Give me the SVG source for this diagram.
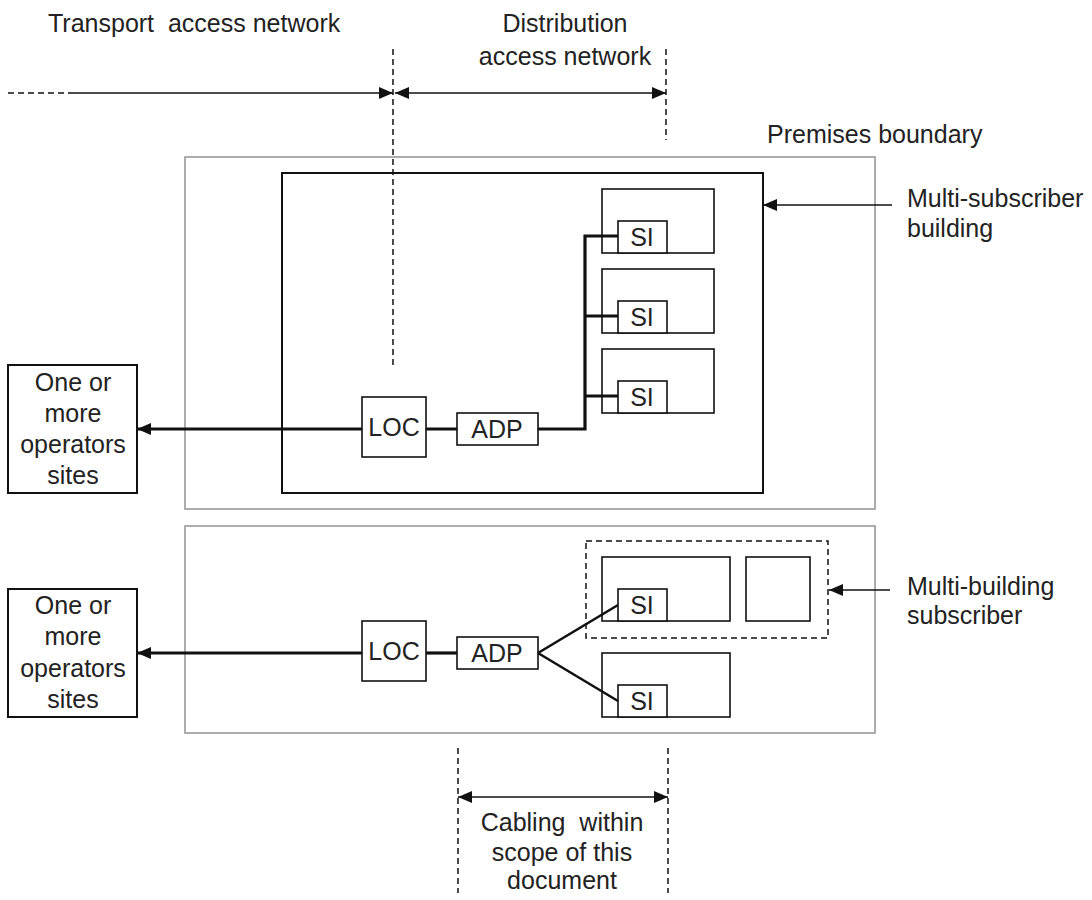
<svg xmlns="http://www.w3.org/2000/svg" width="1092" height="900" viewBox="0 0 1092 900">
<style>
text{font-family:"Liberation Sans",Arial,sans-serif;font-size:25px;fill:#222}
.c{text-anchor:middle}
.prem{fill:none;stroke:#999;stroke-width:1.6}
.bld{fill:none;stroke:#111;stroke-width:2}
.box{fill:#fff;stroke:#111;stroke-width:1.6}
.dash{fill:none;stroke:#111;stroke-width:1.5;stroke-dasharray:6,4}
.thick{fill:none;stroke:#111;stroke-width:3.2}
.med{fill:none;stroke:#111;stroke-width:2.6}
.thin{fill:none;stroke:#111;stroke-width:1.6}
</style>
<defs>
<marker id="ah" viewBox="0 0 14 12" refX="14" refY="6" markerWidth="14" markerHeight="12" markerUnits="userSpaceOnUse" orient="auto-start-reverse">
<path d="M0,0 L14,6 L0,12 Z" fill="#111"/>
</marker>
</defs>
<g id="header">
<text x="48" y="32" xml:space="preserve">Transport  access network</text>
<text class="c" x="565" y="32">Distribution</text>
<text class="c" x="565" y="65">access network</text>
</g>
<g id="premises-1"><rect class="prem" x="185" y="157" width="690" height="352"/></g>
<g id="premises-2"><rect class="prem" x="185" y="526" width="690" height="207"/></g>
<g id="premises-label"><text x="767" y="143">Premises boundary</text></g>
<g id="building"><rect class="bld" x="282" y="173" width="481" height="320"/></g>
<g id="sub1"><rect class="box" x="602" y="189" width="112" height="64"/><rect class="box" x="618" y="221" width="49" height="32"/><text class="c" x="642" y="246">SI</text></g>
<g id="sub2"><rect class="box" x="602" y="269" width="112" height="64"/><rect class="box" x="618" y="301" width="49" height="32"/><text class="c" x="642" y="326">SI</text></g>
<g id="sub3"><rect class="box" x="602" y="349" width="112" height="64"/><rect class="box" x="618" y="381" width="49" height="32"/><text class="c" x="642" y="406">SI</text></g>
<g id="loc1"><rect class="box" x="362" y="397" width="64" height="60"/><text class="c" x="394" y="436">LOC</text></g>
<g id="adp1"><rect class="box" x="457" y="413" width="81" height="32"/><text class="c" x="497" y="438">ADP</text></g>
<g id="ops1"><rect class="bld" x="8" y="365" width="129" height="128"/>
<text class="c" x="73" y="391">One or</text><text class="c" x="73" y="422">more</text><text class="c" x="73" y="453">operators</text><text class="c" x="73" y="484">sites</text></g>
<g id="msb-label"><text x="907" y="207">Multi-subscriber</text><text x="907" y="237">building</text></g>
<g id="mbs-group"><rect class="dash" x="586" y="541" width="242" height="97"/></g>
<g id="sub4"><rect class="box" x="602" y="557" width="128" height="64"/><rect class="box" x="618" y="589" width="49" height="32"/><text class="c" x="642" y="614">SI</text></g>
<g id="sub5"><rect class="box" x="746" y="557" width="64" height="64"/></g>
<g id="sub6"><rect class="box" x="602" y="653" width="128" height="64"/><rect class="box" x="618" y="685" width="49" height="32"/><text class="c" x="642" y="710">SI</text></g>
<g id="loc2"><rect class="box" x="362" y="621" width="64" height="60"/><text class="c" x="394" y="660">LOC</text></g>
<g id="adp2"><rect class="box" x="457" y="637" width="81" height="32"/><text class="c" x="497" y="662">ADP</text></g>
<g id="ops2"><rect class="bld" x="8" y="589" width="129" height="128"/>
<text class="c" x="73" y="614">One or</text><text class="c" x="73" y="645">more</text><text class="c" x="73" y="677">operators</text><text class="c" x="73" y="708">sites</text></g>
<g id="mbs-label"><text x="907" y="595">Multi-building</text><text x="907" y="624">subscriber</text></g>
<g id="scope-label"><text class="c" x="562" y="831" xml:space="preserve">Cabling  within</text><text class="c" x="562" y="861">scope of this</text><text class="c" x="562" y="889">document</text></g>
<g id="connectors">
<path class="dash" d="M393,49 V365 M666,49 V140 M458,748 V893 M668,748 V893 M8,93 H72"/>
<path class="thin" d="M72,93 H393" marker-end="url(#ah)"/>
<path class="thin" d="M395,93 H666" marker-start="url(#ah)" marker-end="url(#ah)"/>
<path class="thin" d="M458,797 H668" marker-start="url(#ah)" marker-end="url(#ah)"/>
<path class="thin" d="M892,205 H763" marker-end="url(#ah)"/>
<path class="thin" d="M890,590 H829" marker-end="url(#ah)"/>
<path class="thick" d="M362,429 H137" marker-end="url(#ah)"/>
<path class="thick" d="M426,429 H457 M538,429 H585 V236 H618 M585,316 H618 M585,396 H618"/>
<path class="thick" d="M362,653 H137" marker-end="url(#ah)"/>
<path class="thick" d="M426,653 H457"/>
<path class="med" d="M538,653 L618,605 M538,653 L618,701"/>
</g>
</svg>
